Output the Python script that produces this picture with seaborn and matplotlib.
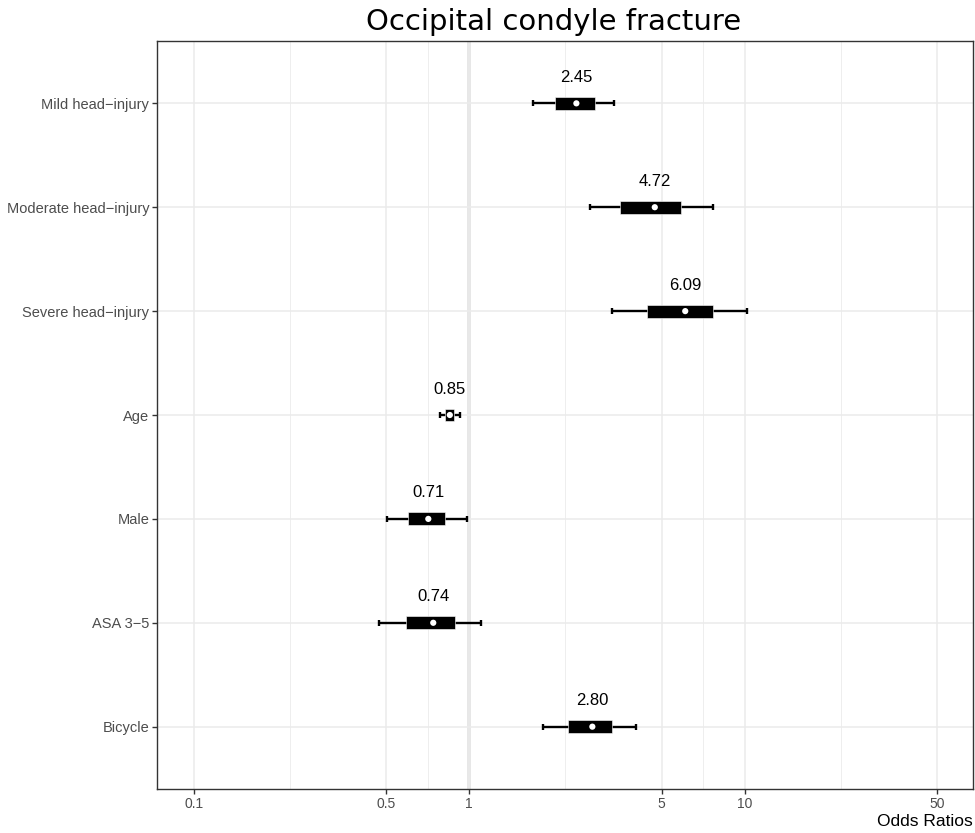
import numpy as np
import pandas as pd
import seaborn as sns
import matplotlib
matplotlib.use("Agg")
import matplotlib.pyplot as plt
from matplotlib.ticker import FixedLocator, NullFormatter

labels = ["Mild head\u2212injury", "Moderate head\u2212injury", "Severe head\u2212injury",
          "Age", "Male", "ASA 3\u22125", "Bicycle"]
odds = [2.45, 4.72, 6.09, 0.85, 0.71, 0.74, 2.80]
ci95_low = [1.71, 2.75, 3.31, 0.785, 0.503, 0.471, 1.86]
ci95_high = [3.37, 7.65, 10.25, 0.927, 0.983, 1.106, 4.05]
ci50_low = [2.05, 3.54, 4.44, 0.818, 0.600, 0.590, 2.29]
ci50_high = [2.87, 5.90, 7.71, 0.882, 0.818, 0.889, 3.31]
x_ticks = [0.1, 0.5, 1, 5, 10, 50]
x_tick_labels = ["0.1", "0.5", "1", "5", "10", "50"]

sns.set_theme(style="white")
plt.rcParams['font.family'] = ['Liberation Sans', 'DejaVu Sans']

df = pd.DataFrame({"label": labels, "odds": odds, "lo95": ci95_low, "hi95": ci95_high,
                   "lo50": ci50_low, "hi50": ci50_high})
df["pos"] = np.arange(len(df))

fig = plt.figure(figsize=(9.75, 8.33), dpi=100)
ax = fig.add_axes([157/975, 1-789/833, (973-157)/975, (789-41)/833])

ax.set_xscale("log")
ax.set_xlim(0.0734, 67.6)
ax.set_ylim(6.6, -0.6)

# grid
major = np.array(x_ticks, dtype=float)
minors = np.sqrt(major[:-1] * major[1:])
ax.set_xticks(x_ticks)
ax.set_xticklabels(x_tick_labels)
ax.xaxis.set_minor_locator(FixedLocator(minors))
ax.xaxis.set_minor_formatter(NullFormatter())
ax.set_yticks(df["pos"])
ax.set_yticklabels(df["label"])
ax.set_axisbelow(True)
ax.grid(which="major", color="#ebebeb", lw=1.1)
ax.grid(which="minor", axis="x", color="#ebebeb", lw=0.6)
ax.axvline(1, color="#e2e2e2", lw=2.6, zorder=0.5)

# whiskers
ax.errorbar(df["odds"], df["pos"],
            xerr=[df["odds"] - df["lo95"], df["hi95"] - df["odds"]],
            fmt="none", ecolor="black", elinewidth=1.7, capsize=2.5, capthick=1.7, zorder=3)
# boxes
ax.barh(df["pos"], width=df["hi50"] - df["lo50"], left=df["lo50"], height=0.125,
        color="black", edgecolor="white", linewidth=0.4, zorder=4)
# points
sns.scatterplot(data=df, x="odds", y="pos", color="white", s=20, edgecolor="none",
                zorder=5, ax=ax, legend=False)

for o, p in zip(df["odds"], df["pos"]):
    ax.text(o, p - 0.25, f"{o:.2f}", ha="center", va="center", fontsize=12, color="black")

ax.set_xlabel("")
ax.set_ylabel("")
for s in ax.spines.values():
    s.set_visible(True)
    s.set_color("#333333")
    s.set_linewidth(1.0)
ax.tick_params(axis="both", which="major", length=3.5, width=1, color="#333333",
               labelcolor="#4d4d4d", pad=2, bottom=True, left=True)
ax.tick_params(axis="y", labelsize=10.5)
ax.tick_params(axis="x", labelsize=10)
ax.tick_params(which="minor", length=0)

fig.text(554/975, 1-22/833, "Occipital condyle fracture", fontsize=21, ha="center",
         va="center", family=["DejaVu Sans"], color="black")
fig.text(973/975, 1-822/833, "Odds Ratios", ha="right", va="center", fontsize=12.5,
         color="black")

fig.savefig("out.png", dpi=100)
